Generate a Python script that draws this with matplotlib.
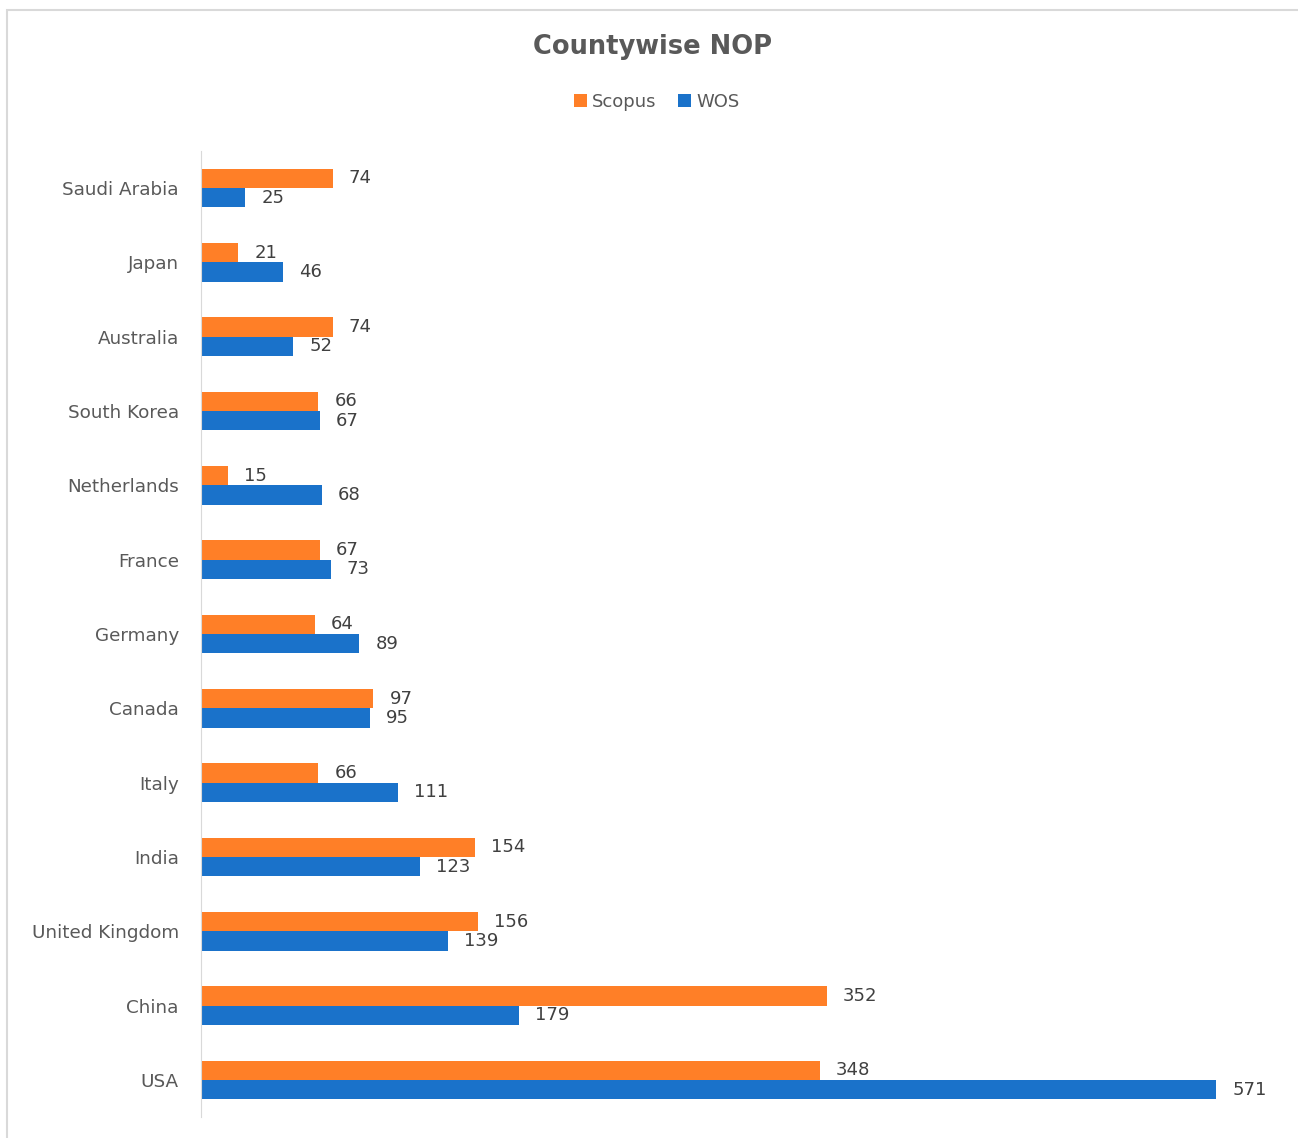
import numpy as np
import matplotlib.pyplot as plt
from matplotlib.patches import Rectangle

countries = ['Saudi Arabia', 'Japan', 'Australia', 'South Korea', 'Netherlands',
             'France', 'Germany', 'Canada', 'Italy', 'India', 'United Kingdom',
             'China', 'USA']
scopus = [74, 21, 74, 66, 15, 67, 64, 97, 66, 154, 156, 352, 348]
wos = [25, 46, 52, 67, 68, 73, 89, 95, 111, 123, 139, 179, 571]

plt.rcParams['font.family'] = ['DejaVu Sans']

fig = plt.figure(figsize=(12.98, 11.38), dpi=100)
# chart frame
fig.patches.append(Rectangle((7 / 1298, -0.01), 1.1, 1 - 10 / 1138 + 0.01,
                             transform=fig.transFigure, fill=False,
                             edgecolor='#d9d9d9', linewidth=1.5))

ax = fig.add_axes([201 / 1298, 21 / 1138, (1268 - 201) / 1298, (1117 - 148) / 1138 - 0.0025])
y = np.arange(len(countries))
h = 0.26
b1 = ax.barh(y - h / 2, scopus, height=h, color='#FF7F27', label='Scopus')
b2 = ax.barh(y + h / 2, wos, height=h, color='#1A72CA', label='WOS')

for bars, vals in [(b1, scopus), (b2, wos)]:
    for r, v in zip(bars, vals):
        ax.text(r.get_width() + 9, r.get_y() + r.get_height() / 2, str(v),
                va='center', ha='left', fontsize=13, color='#404040')

ax.set_ylim(12.5, -0.5)
ax.set_xlim(0, 600)
ax.set_yticks(y)
ax.set_yticklabels(countries, fontsize=13.2, color='#595959')
ax.set_xticks([])
ax.tick_params(axis='y', length=0, pad=16)
for s in ['top', 'right', 'bottom']:
    ax.spines[s].set_visible(False)
ax.spines['left'].set_color('#d9d9d9')

fig.text(652 / 1298, 1 - 47 / 1138, 'Countywise NOP', ha='center', va='center',
         fontsize=18.5, fontweight='bold', color='#595959')
fig.legend(handles=[b1, b2], loc='center', bbox_to_anchor=(657 / 1298, 1 - 102 / 1138),
           ncol=2, frameon=False, fontsize=13, handlelength=0.7, handleheight=0.7,
           handletextpad=0.3, columnspacing=1.2, labelcolor='#595959')

fig.savefig('out.png', dpi=100)
